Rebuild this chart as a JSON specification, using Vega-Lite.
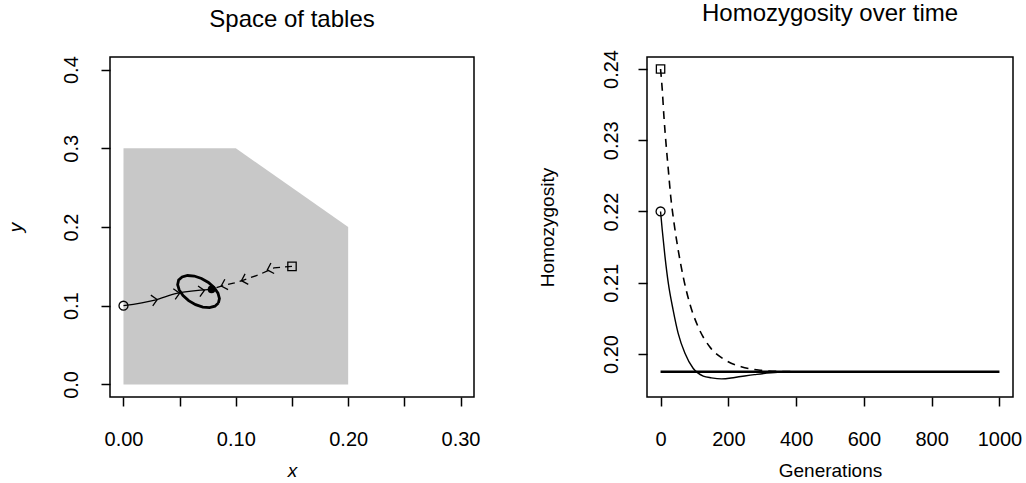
{
  "$schema": "https://vega.github.io/schema/vega-lite/v6.json",
  "background": "white",
  "padding": {"left": 5, "top": 0, "right": 5, "bottom": 0},
  "config": {
    "font": "Liberation Sans",
    "view": {"stroke": "black", "strokeWidth": 1.5},
    "axis": {"grid": false, "domain": false, "tickColor": "black", "tickSize": 9, "tickWidth": 1.5, "labelFontSize": 20, "labelColor": "black", "labelFont": "Liberation Sans", "titleFont": "Liberation Sans", "titleFontSize": 19, "titleFontWeight": "normal", "titleColor": "black", "labelFlush": false, "labelOverlap": false},
    "axisX": {"labelPadding": 23, "titlePadding": 12},
    "axisY": {"labelAngle": -90, "labelAlign": "center", "labelBaseline": "bottom", "labelPadding": 20, "titlePadding": 36},
    "title": {"fontSize": 24, "fontWeight": "normal", "offset": 24, "color": "black", "font": "Liberation Sans"},
    "concat": {"spacing": 56}
  },
  "datasets": {
    "region": [{"x": 0, "y": 0.3}, {"x": 0.1, "y": 0.3}, {"x": 0.2, "y": 0.2}],
    "solidPath": [{"x": 0, "y": 0.1, "o": 1}, {"x": 0.028, "y": 0.1072, "o": 2}, {"x": 0.0473, "y": 0.1157, "o": 3}, {"x": 0.0784, "y": 0.1208, "o": 4}],
    "dashPath": [{"x": 0.15, "y": 0.15, "o": 1}, {"x": 0.134, "y": 0.148, "o": 2}, {"x": 0.12, "y": 0.139, "o": 3}, {"x": 0.1068, "y": 0.1326, "o": 4}, {"x": 0.0988, "y": 0.1289, "o": 5}, {"x": 0.0872, "y": 0.125, "o": 6}, {"x": 0.0784, "y": 0.1208, "o": 7}],
    "ellipse": [
      {"x": 0.0845, "y": 0.1034, "o": 0}, {"x": 0.0814, "y": 0.0994, "o": 1}, {"x": 0.0766, "y": 0.0976, "o": 2}, {"x": 0.0706, "y": 0.0983, "o": 3}, {"x": 0.0642, "y": 0.1014, "o": 4}, {"x": 0.058, "y": 0.1065, "o": 5}, {"x": 0.053, "y": 0.1129, "o": 6}, {"x": 0.0496, "y": 0.12, "o": 7}, {"x": 0.0482, "y": 0.1268, "o": 8}, {"x": 0.0491, "y": 0.1326, "o": 9}, {"x": 0.0522, "y": 0.1366, "o": 10}, {"x": 0.057, "y": 0.1384, "o": 11}, {"x": 0.063, "y": 0.1377, "o": 12}, {"x": 0.0694, "y": 0.1346, "o": 13}, {"x": 0.0756, "y": 0.1296, "o": 14}, {"x": 0.0806, "y": 0.1231, "o": 15}, {"x": 0.0841, "y": 0.116, "o": 16}, {"x": 0.0854, "y": 0.1092, "o": 17}, {"x": 0.0845, "y": 0.1034, "o": 18}
    ],
    "solidArrows": [{"x": 0.03, "y": 0.1078}, {"x": 0.05, "y": 0.116}, {"x": 0.072, "y": 0.1195}],
    "dashArrows": [{"x": 0.128, "y": 0.1455}, {"x": 0.105, "y": 0.1318}, {"x": 0.087, "y": 0.125}],
    "startPt": [{"x": 0, "y": 0.1}],
    "squarePt": [{"x": 0.15, "y": 0.15}],
    "eqPt": [{"x": 0.0784, "y": 0.1208}],
    "equil": [{"g": 0, "h": 0.1975}, {"g": 1000, "h": 0.1975}],
    "solidCurve": [{"g": 0, "h": 0.22}, {"g": 5, "h": 0.2174}, {"g": 13, "h": 0.2137}, {"g": 23, "h": 0.2099}, {"g": 37, "h": 0.2062}, {"g": 52, "h": 0.2029}, {"g": 72, "h": 0.2001}, {"g": 96, "h": 0.198}, {"g": 126, "h": 0.1969}, {"g": 150, "h": 0.19665}, {"g": 180, "h": 0.1965}, {"g": 219, "h": 0.1967}, {"g": 277, "h": 0.1971}, {"g": 346, "h": 0.19742}, {"g": 420, "h": 0.19748}, {"g": 500, "h": 0.1975}],
    "dashCurve": [{"g": 0, "h": 0.24}, {"g": 5, "h": 0.2371}, {"g": 10, "h": 0.2333}, {"g": 16, "h": 0.2296}, {"g": 23, "h": 0.2258}, {"g": 30, "h": 0.2221}, {"g": 40, "h": 0.2183}, {"g": 52, "h": 0.2146}, {"g": 67, "h": 0.2108}, {"g": 86, "h": 0.2071}, {"g": 111, "h": 0.2038}, {"g": 145, "h": 0.201}, {"g": 189, "h": 0.1992}, {"g": 238, "h": 0.1982}, {"g": 297, "h": 0.1977}, {"g": 346, "h": 0.19755}, {"g": 420, "h": 0.1975}],
    "startH": [{"g": 0, "h": 0.22}],
    "squareH": [{"g": 0, "h": 0.24}]
  },
  "hconcat": [
    {
      "width": 364,
      "height": 340,
      "title": "Space of tables",
      "encoding": {
        "x": {"field": "x", "type": "quantitative", "scale": {"domain": [-0.012, 0.312], "nice": false, "zero": false}, "axis": {"values": [0, 0.05, 0.1, 0.15, 0.2, 0.25, 0.3], "labelExpr": "round(datum.value*100)%10==0 ? format(datum.value,'.2f') : ''", "title": "x", "titleFontStyle": "italic"}},
        "y": {"field": "y", "type": "quantitative", "scale": {"domain": [-0.016, 0.416], "nice": false, "zero": false}, "axis": {"values": [0, 0.1, 0.2, 0.3, 0.4], "format": ".1f", "title": "y", "titleFontStyle": "italic"}}
      },
      "layer": [
        {"data": {"name": "region"}, "mark": {"type": "area", "color": "#c8c8c8", "opacity": 1}, "encoding": {"y2": {"datum": 0}}},
        {"data": {"name": "solidPath"}, "mark": {"type": "line", "color": "black", "strokeWidth": 1.3, "interpolate": "monotone"}, "encoding": {"order": {"field": "o"}}},
        {"data": {"name": "dashPath"}, "mark": {"type": "line", "color": "black", "strokeWidth": 1.3, "strokeDash": [7, 5]}, "encoding": {"order": {"field": "o"}}},
        {"data": {"name": "ellipse"}, "mark": {"type": "line", "color": "black", "strokeWidth": 2.8}, "encoding": {"order": {"field": "o"}}},
        {"data": {"name": "solidArrows"}, "mark": {"type": "point", "shape": "M-1,-1L0,0L-1,1", "filled": false, "stroke": "black", "strokeWidth": 1.3, "size": 120, "angle": 350, "opacity": 1}},
        {"data": {"name": "dashArrows"}, "mark": {"type": "point", "shape": "M-1,-1L0,0L-1,1", "filled": false, "stroke": "black", "strokeWidth": 1.3, "size": 120, "angle": 163, "opacity": 1}},
        {"data": {"name": "startPt"}, "mark": {"type": "point", "shape": "circle", "filled": false, "stroke": "black", "strokeWidth": 1.3, "size": 80, "opacity": 1}},
        {"data": {"name": "squarePt"}, "mark": {"type": "point", "shape": "square", "filled": false, "stroke": "black", "strokeWidth": 1.3, "size": 70, "opacity": 1}},
        {"data": {"name": "eqPt"}, "mark": {"type": "point", "shape": "circle", "filled": true, "color": "black", "size": 60, "opacity": 1}}
      ]
    },
    {
      "width": 366,
      "height": 340,
      "title": "Homozygosity over time",
      "encoding": {
        "x": {"field": "g", "type": "quantitative", "scale": {"domain": [-40, 1040], "nice": false, "zero": false}, "axis": {"values": [0, 200, 400, 600, 800, 1000], "format": "d", "title": "Generations"}},
        "y": {"field": "h", "type": "quantitative", "scale": {"domain": [0.19396, 0.24168], "nice": false, "zero": false}, "axis": {"values": [0.2, 0.21, 0.22, 0.23, 0.24], "format": ".2f", "title": "Homozygosity", "labelPadding": 17, "titlePadding": 44}}
      },
      "layer": [
        {"data": {"name": "equil"}, "mark": {"type": "line", "color": "black", "strokeWidth": 2.6}, "encoding": {}},
        {"data": {"name": "solidCurve"}, "mark": {"type": "line", "color": "black", "strokeWidth": 1.4, "interpolate": "monotone"}, "encoding": {}},
        {"data": {"name": "dashCurve"}, "mark": {"type": "line", "color": "black", "strokeWidth": 1.6, "strokeDash": [8, 6], "interpolate": "monotone"}, "encoding": {}},
        {"data": {"name": "startH"}, "mark": {"type": "point", "shape": "circle", "filled": false, "stroke": "black", "strokeWidth": 1.3, "size": 80, "opacity": 1}},
        {"data": {"name": "squareH"}, "mark": {"type": "point", "shape": "square", "filled": false, "stroke": "black", "strokeWidth": 1.3, "size": 70, "opacity": 1}}
      ]
    }
  ]
}
